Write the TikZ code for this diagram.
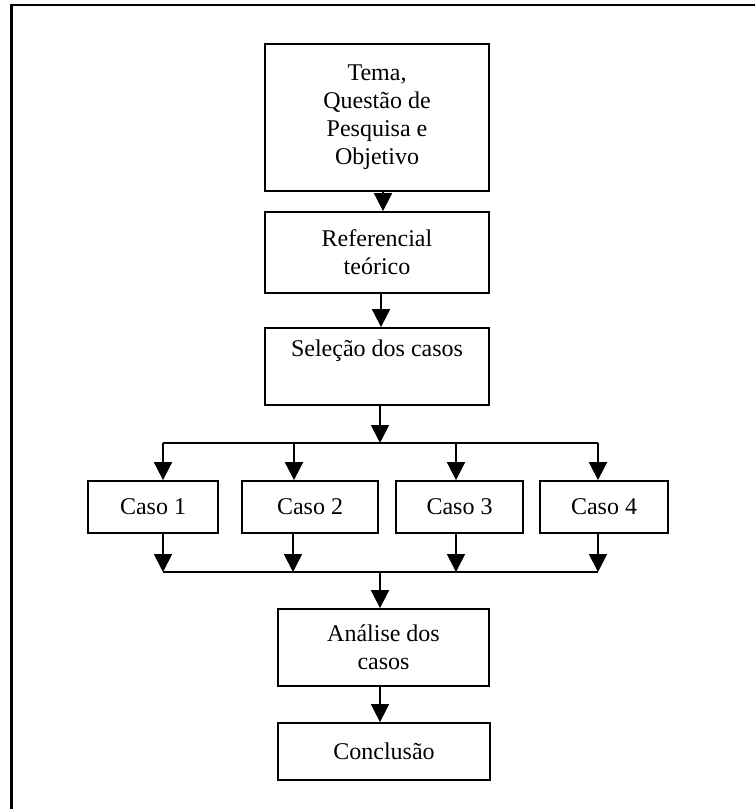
\documentclass[tikz,border=0pt]{standalone}
\usepackage{fontspec}
\setmainfont{Liberation Serif}
\usetikzlibrary{arrows.meta}
\begin{document}
\begin{tikzpicture}[x=1pt,y=-1pt,
  box/.style={draw=black,line width=1.8pt,rectangle,align=center,inner sep=0pt,
    font=\fontsize{24}{28}\selectfont},
  arr/.style={line width=1.8pt,-{Triangle[width=18pt,length=18pt]}},
  ln/.style={line width=1.8pt}]
\useasboundingbox (0,0) rectangle (755,809);
% partial frame (top and left edges)
\draw[line width=2.5pt] (11.5,809) -- (11.5,5) -- (755,5);
% boxes
\node[box,minimum width=224pt,minimum height=147pt] (tema) at (377,117.5)
  {Tema,\\Questão de\\Pesquisa e\\Objetivo};
\node[box,minimum width=224pt,minimum height=81pt] (ref) at (377,252.5)
  {Referencial\\teórico};
\node[box,minimum width=224pt,minimum height=77pt] (sel) at (377,366.5)
  {Seleção dos casos\\ \strut};
\node[box,minimum width=130pt,minimum height=52pt] (c1) at (153,507) {Caso 1};
\node[box,minimum width=136pt,minimum height=52pt] (c2) at (310,507) {Caso 2};
\node[box,minimum width=127pt,minimum height=52pt] (c3) at (459.5,507) {Caso 3};
\node[box,minimum width=128pt,minimum height=52pt] (c4) at (604,507) {Caso 4};
\node[box,minimum width=211pt,minimum height=77pt] (ana) at (383.5,647.5)
  {Análise dos\\casos};
\node[box,minimum width=212pt,minimum height=57pt] (conc) at (384,751.5)
  {Conclusão};
% junction coordinates
\coordinate (sp) at (380,443);
\coordinate (s1) at (163,443);
\coordinate (s2) at (294,443);
\coordinate (s3) at (456,443);
\coordinate (s4) at (598,443);
\coordinate (m) at (380,572);
\coordinate (m1) at (163,572);
\coordinate (m2) at (293,572);
\coordinate (m3) at (456,572);
\coordinate (m4) at (598,572);
% connectors
\draw[arr] ([xshift=6pt]tema.south) -- ([xshift=6pt]ref.north);
\draw[arr] ([xshift=4pt]ref.south) -- ([xshift=4pt]sel.north);
\draw[arr] (sel.south -| sp) -- (sp);
\draw[ln] (s1) -- (s4);
\draw[arr] (s1) -- (c1.north -| s1);
\draw[arr] (s2) -- (c2.north -| s2);
\draw[arr] (s3) -- (c3.north -| s3);
\draw[arr] (s4) -- (c4.north -| s4);
\draw[arr] (c1.south -| m1) -- (m1);
\draw[arr] (c2.south -| m2) -- (m2);
\draw[arr] (c3.south -| m3) -- (m3);
\draw[arr] (c4.south -| m4) -- (m4);
\draw[ln] (m1) -- (m4);
\draw[arr] (m) -- (ana.north -| m);
\draw[arr] (ana.south -| m) -- (conc.north -| m);
\end{tikzpicture}
\end{document}
